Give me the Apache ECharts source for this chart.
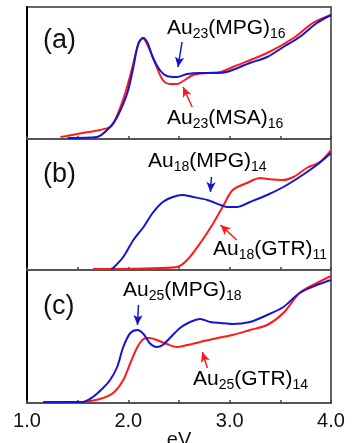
<!DOCTYPE html>
<html>
<head>
<meta charset="utf-8">
<script src="https://cdn.jsdelivr.net/npm/echarts@6/dist/echarts.min.js"></script>
<style>
  html, body { margin: 0; padding: 0; background: #fff; }
  #chart { width: 352px; height: 443px; }
</style>
</head>
<body>
<div id="chart"></div>
<script>
// photon energy (eV) vs absorbance (arb. units)
const au23MPG = [[1.40,1],[1.69,2],[1.82,12],[1.89,22],[1.99,46],[2.05,72],[2.10,96],[2.15,101],[2.19,96],[2.24,82],[2.31,69],[2.38,63],[2.48,62],[2.58,65],[2.71,66],[2.88,66],[2.97,67],[3.20,76],[3.37,82],[3.53,92],[3.69,102],[3.86,116],[4.00,124]]
const au23MSA = [[1.33,2],[1.39,3],[1.55,6],[1.72,9],[1.82,12],[1.87,19],[1.97,46],[2.04,72],[2.09,92],[2.14,101],[2.19,94],[2.28,72],[2.34,59],[2.41,55],[2.48,55],[2.54,58],[2.64,64],[2.78,66],[2.91,67],[3.03,72],[3.37,86],[3.63,101],[3.82,116],[4.00,124]]

const au18MPG = [[1.83,1],[1.85,2],[1.95,13],[2.05,30],[2.15,43],[2.24,57],[2.34,68],[2.44,73],[2.53,75],[2.64,73],[2.78,70],[2.91,65],[2.97,63],[3.07,63],[3.20,68],[3.37,75],[3.53,83],[3.69,93],[3.86,105],[4.00,117]]
const au18GTR = [[1.65,1],[1.84,1],[2.31,2],[2.48,3],[2.58,10],[2.71,27],[2.84,47],[2.93,63],[3.03,80],[3.17,87],[3.30,92],[3.37,91],[3.53,90],[3.63,93],[3.76,102],[3.89,108],[4.00,120]]

const au25MPG = [[1.16,1],[1.33,1],[1.49,1],[1.55,1],[1.65,6],[1.75,15],[1.82,23],[1.89,36],[1.95,56],[2.02,70],[2.09,73],[2.15,69],[2.21,60],[2.28,56],[2.34,58],[2.41,65],[2.51,75],[2.61,81],[2.71,84],[2.81,81],[2.91,80],[3.03,79],[3.20,81],[3.37,88],[3.53,96],[3.69,110],[3.86,118],[4.00,123]]
const au25GTR = [[1.39,0],[1.55,1],[1.72,4],[1.85,10],[1.95,23],[2.02,40],[2.09,56],[2.15,64],[2.21,65],[2.28,63],[2.38,59],[2.48,56],[2.58,58],[2.71,61],[2.88,65],[3.03,68],[3.20,73],[3.37,78],[3.53,90],[3.69,110],[3.86,120],[4.00,127]]

const xTicks = [1.0, 2.0, 3.0, 4.0]

// arrow annotations [from, to] in data units
const arrowsA = { blue: [[2.53,97],[2.49,72]], red: [[2.63,32],[2.54,52]] }
const arrowsB = { blue: [[2.82,93],[2.81,78]], red: [[3.07,30],[2.91,45]] }
const arrowsC = { blue: [[2.10,98],[2.09,78]], red: [[2.78,35],[2.73,51]] }

const BLUE = '#1414d2'
const RED  = '#ff1a1a'

const panels = [
  { top: 7,   height: 132, tag: '(a)', tagY: 42,  mpg: au23MPG, other: au23MSA, arrows: arrowsA,
    blueText: ['Au', '23', '(MPG)', '16'], blueAt: [167, 31],
    redText:  ['Au', '23', '(MSA)', '16'], redAt:  [167, 121] },
  { top: 139, height: 131, tag: '(b)', tagY: 176, mpg: au18MPG, other: au18GTR, arrows: arrowsB,
    blueText: ['Au', '18', '(MPG)', '14'], blueAt: [148, 164],
    redText:  ['Au', '18', '(GTR)', '11'], redAt:  [213, 252] },
  { top: 270, height: 133, tag: '(c)', tagY: 308, mpg: au25MPG, other: au25GTR, arrows: arrowsC,
    blueText: ['Au', '25', '(MPG)', '18'], blueAt: [123, 293],
    redText:  ['Au', '25', '(GTR)', '14'], redAt:  [193, 382] },
]

const FONT = '"Liberation Sans", Arial, sans-serif'

const richStyle = (color) => ({
  m: { fontSize: 21, fontFamily: FONT, color, lineHeight: 26, verticalAlign: 'middle' },
  s: { fontSize: 14, fontFamily: FONT, color, lineHeight: 14, verticalAlign: 'bottom' },
})
const chemText = (t) => `{m|${t[0]}}{s|${t[1]}}{m|${t[2]}}{s|${t[3]}}`

const chart = echarts.init(document.getElementById('chart'), null, { renderer: 'canvas' })

const grid = [], xAxis = [], yAxis = [], series = [], graphic = []

panels.forEach((p, i) => {
  const last = i === panels.length - 1
  // outerBoundsMode none: keep panel sizes fixed, labels may hang off the edge
  grid.push({ left: 27, right: 21, top: p.top, height: p.height,
    outerBoundsMode: 'none', containLabel: false,
    show: true, borderColor: '#333', borderWidth: 1.5 })
  xAxis.push({
    gridIndex: i, type: 'value', min: 1, max: 4, interval: 0.5,
    axisLine: { lineStyle: { color: '#555', width: 2 } },
    axisTick: { inside: true, length: 3, lineStyle: { color: '#444', width: 1.5 } },
    splitLine: { show: false },
    axisLabel: {
      show: last, color: '#111', fontSize: 20, fontFamily: FONT, margin: 8,
      formatter: (v) => xTicks.includes(v) ? v.toFixed(1) : '',
    },
    name: last ? 'eV' : '', nameLocation: 'middle', nameGap: 27, nameMoveOverlap: false,
    nameTextStyle: { fontSize: 20, fontFamily: FONT, color: '#111' },
  })
  yAxis.push({
    gridIndex: i, type: 'value', min: 0, max: p.height,
    axisLine: { show: true, lineStyle: { color: '#000', width: 2 } },
    axisTick: { show: false }, axisLabel: { show: false }, splitLine: { show: false },
  })
  const arrow = (pts, color) => ({
    silent: true, symbol: ['none', 'arrow'], symbolSize: [7, 10],
    lineStyle: { color, width: 1.5, type: 'solid' }, label: { show: false },
    data: [[{ coord: pts[0] }, { coord: pts[1] }]],
  })
  series.push({
    type: 'line', xAxisIndex: i, yAxisIndex: i, data: p.other, symbol: 'none',
    smooth: 0.3, lineStyle: { color: RED, width: 2 }, z: 2,
    markLine: arrow(p.arrows.red, RED),
  })
  series.push({
    type: 'line', xAxisIndex: i, yAxisIndex: i, data: p.mpg, symbol: 'none',
    smooth: 0.3, lineStyle: { color: BLUE, width: 2 }, z: 3,
    markLine: arrow(p.arrows.blue, BLUE),
  })
  graphic.push({ type: 'text', left: 43, top: p.tagY - 15,
    style: { text: p.tag, fontSize: 27, fontFamily: FONT, fill: '#111' } })
  graphic.push({ type: 'text', left: p.blueAt[0], top: p.blueAt[1] - 13,
    style: { text: chemText(p.blueText), rich: richStyle(BLUE) } })
  graphic.push({ type: 'text', left: p.redAt[0], top: p.redAt[1] - 13,
    style: { text: chemText(p.redText), rich: richStyle(RED) } })
})

chart.setOption({
  animation: false,
  backgroundColor: '#fff',
  grid, xAxis, yAxis, series, graphic,
})
</script>
</body>
</html>
